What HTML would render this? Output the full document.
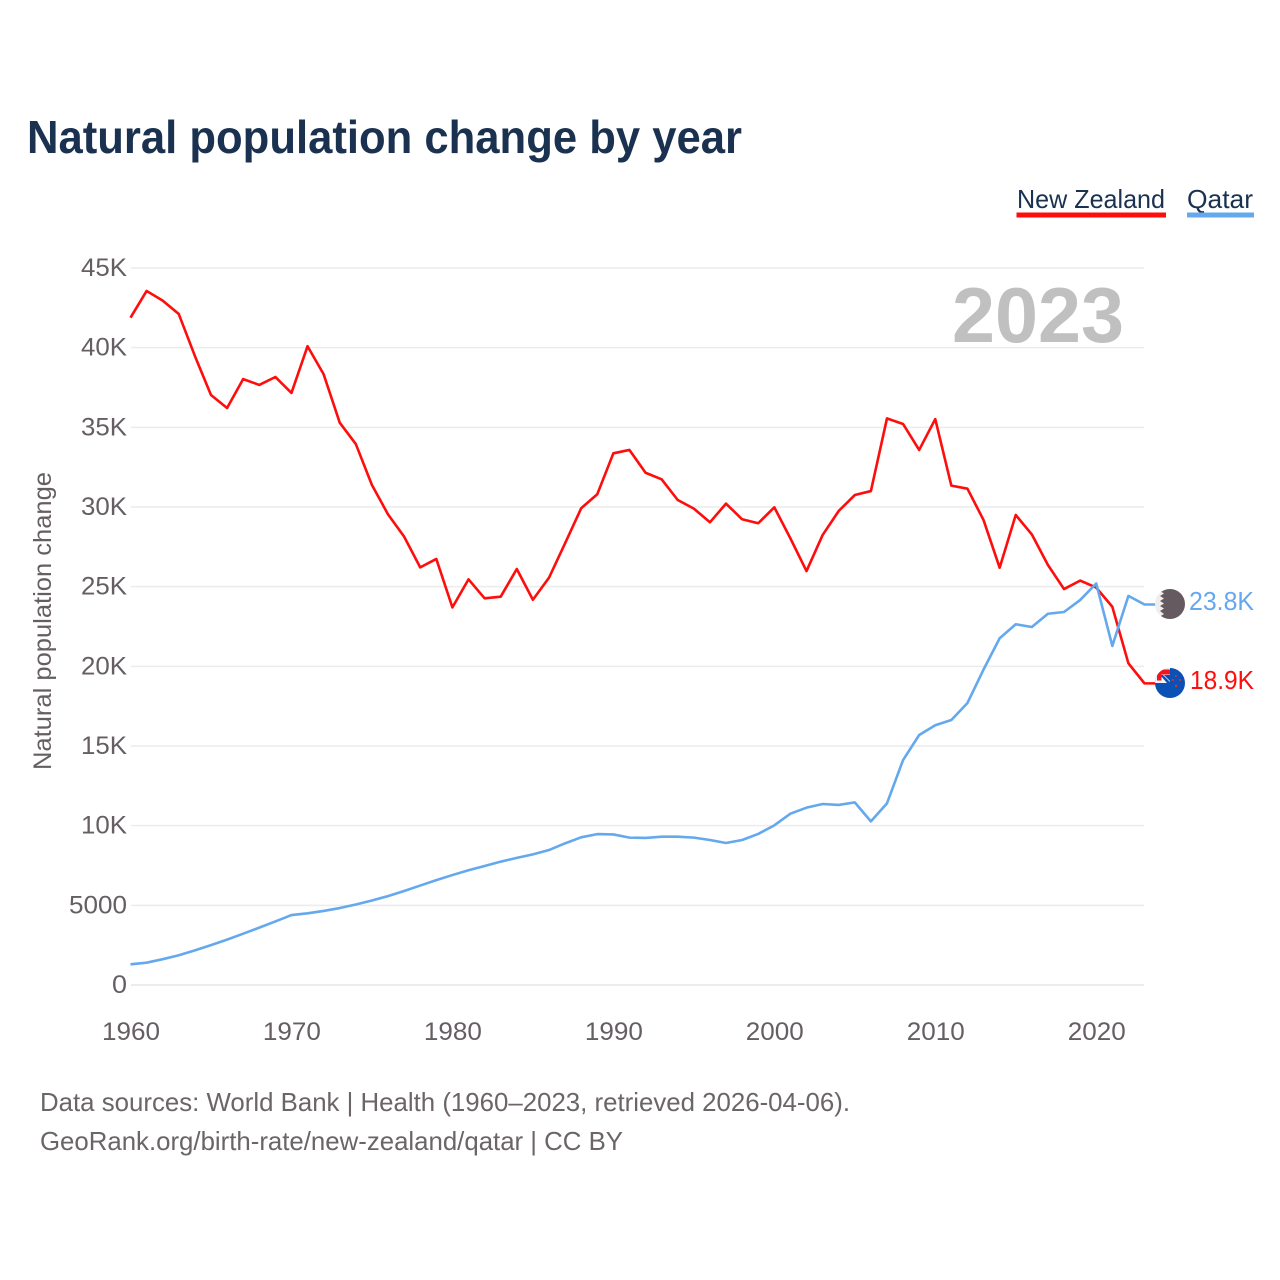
<!DOCTYPE html>
<html lang="en">
<head>
<meta charset="utf-8">
<title>Natural population change by year</title>
<style>
html,body{margin:0;padding:0;background:#fff;width:1280px;height:1280px;overflow:hidden}
svg{display:block}
text{font-family:"Liberation Sans",sans-serif}
</style>
</head>
<body>
<svg id="chart" xmlns="http://www.w3.org/2000/svg" width="1280" height="1280" viewBox="0 0 1280 1280">
  <rect width="1280" height="1280" fill="#fff"/>
  <text x="27" y="153" font-size="46" font-weight="bold" fill="#1a3150" textLength="715" lengthAdjust="spacingAndGlyphs">Natural population change by year</text>
  <g>
    <text x="1017" y="208" font-size="26" fill="#1a3150" textLength="148" lengthAdjust="spacingAndGlyphs">New Zealand</text>
    <rect x="1016.500" y="212.500" width="149.500" height="5" fill="#ff0d0d"/>
  </g>
  <g>
    <text x="1187" y="208" font-size="26" fill="#1a3150" textLength="66" lengthAdjust="spacingAndGlyphs">Qatar</text>
    <rect x="1187" y="212.500" width="67" height="5" fill="#64a8ee"/>
  </g>
  <g id="grid"></g>
  <g id="yticks"></g>
  <g id="xticks"></g>
  <text transform="translate(51,621) rotate(-90)" text-anchor="middle" font-size="25" fill="#655e63" textLength="298" lengthAdjust="spacingAndGlyphs">Natural population change</text>
  <text x="952" y="342" font-size="78" font-weight="bold" fill="#c0c0c0" textLength="172" lengthAdjust="spacingAndGlyphs">2023</text>
  <g id="series"></g>
  <defs>
    <clipPath id="clip-qa"><circle cx="1170" cy="604" r="15"/></clipPath>
    <clipPath id="clip-nz"><circle cx="1170" cy="683" r="15"/></clipPath>
  </defs>
  <g clip-path="url(#clip-qa)">
    <rect x="1155" y="589" width="30" height="30" fill="#efeded"/>
    <polygon points="1163,589 1185,589 1185,619 1163,619 1160,616.500 1164,614 1160,611 1164,608.500 1160,606 1164,603.500 1160,601 1164,598.500 1160,596 1164,593.500 1160,591" fill="#655a60"/>
  </g>
  <g clip-path="url(#clip-nz)">
    <rect x="1155" y="668" width="30" height="30" fill="#0b50b4"/>
    <rect x="1155" y="668" width="15" height="15" fill="#f4f4fa"/>
    <polygon points="1160,675 1163,675 1170,682 1170,683 1167,683" fill="#0b50b4"/>
    <polygon points="1164,675 1170,675 1170,681" fill="#0b50b4"/>
    <rect x="1157" y="669.500" width="13" height="5" fill="#f5141e"/>
    <rect x="1157" y="669.500" width="4.500" height="11" fill="#f5141e"/>
    <circle cx="1176" cy="676" r="1" fill="#e23030"/>
    <circle cx="1173" cy="680" r="1" fill="#e23030"/>
    <circle cx="1180" cy="680" r="1" fill="#e23030"/>
    <circle cx="1176" cy="686" r="1.200" fill="#e23030"/>
  </g>
  <text x="1189" y="610" font-size="26" fill="#64a8ee" textLength="65" lengthAdjust="spacingAndGlyphs">23.8K</text>
  <text x="1190" y="689" font-size="26" fill="#ff0d0d" textLength="64" lengthAdjust="spacingAndGlyphs">18.9K</text>
  <text x="40" y="1111" font-size="26" fill="#6b6568" textLength="810" lengthAdjust="spacingAndGlyphs">Data sources: World Bank | Health (1960–2023, retrieved 2026-04-06).</text>
  <a><text x="40" y="1150" font-size="26" fill="#6b6568" textLength="583" lengthAdjust="spacingAndGlyphs">GeoRank.org/birth-rate/new-zealand/qatar | CC BY</text></a>
</svg>
<script>
const startYear = 1960;
const newZealand = [41.88,43.56,42.95,42.11,39.48,37.03,36.21,38.03,37.66,38.16,37.16,40.09,38.33,35.29,33.95,31.38,29.54,28.14,26.21,26.74,23.70,25.46,24.27,24.37,26.11,24.18,25.56,27.72,29.92,30.80,33.37,33.58,32.15,31.74,30.44,29.90,29.04,30.21,29.23,28.98,29.98,28.03,25.98,28.24,29.75,30.75,31.00,35.56,35.21,33.58,35.52,31.34,31.15,29.18,26.19,29.50,28.28,26.36,24.85,25.38,24.94,23.74,20.19,18.93];
const qatar = [1.30,1.40,1.62,1.87,2.17,2.50,2.85,3.22,3.60,3.99,4.39,4.50,4.65,4.83,5.05,5.30,5.58,5.90,6.24,6.58,6.90,7.20,7.47,7.74,7.98,8.20,8.47,8.89,9.27,9.47,9.45,9.25,9.23,9.31,9.31,9.25,9.10,8.91,9.10,9.48,10.02,10.75,11.13,11.36,11.30,11.46,10.27,11.40,14.12,15.69,16.30,16.63,17.70,19.80,21.76,22.64,22.47,23.30,23.41,24.16,25.20,21.28,24.42,23.88];
const yTickValues = [0,5,10,15,20,25,30,35,40,45];
const yTickLabels = ["0","5000","10K","15K","20K","25K","30K","35K","40K","45K"];
const xTickYears = [1960,1970,1980,1990,2000,2010,2020];

const NS = "http://www.w3.org/2000/svg";
function xScale(year){ return 130.5 + (year - 1960) * (1144.5 - 130.5) / 63; }
function yScale(v){ return 985 - v * (985 - 268) / 45; }

const grid = document.getElementById("grid");
const yticks = document.getElementById("yticks");
const xticks = document.getElementById("xticks");
const series = document.getElementById("series");

yTickValues.forEach(function(v, i){
  const line = document.createElementNS(NS, "line");
  line.setAttribute("x1", 131);
  line.setAttribute("x2", 1144);
  line.setAttribute("y1", yScale(v));
  line.setAttribute("y2", yScale(v));
  line.setAttribute("stroke", "#ececec");
  line.setAttribute("stroke-width", v === 0 ? 2 : 1.5);
  
  
  grid.appendChild(line);

  const t = document.createElementNS(NS, "text");
  t.setAttribute("x", 127);
  t.setAttribute("y", yScale(v) + 8);
  t.setAttribute("text-anchor", "end");
  t.setAttribute("font-size", "25");
  t.setAttribute("fill", "#655e63");
  const w = yTickLabels[i].length === 4 ? 58 : (yTickLabels[i].length === 1 ? 15 : 46);
  t.setAttribute("textLength", w);
  t.setAttribute("lengthAdjust", "spacingAndGlyphs");
  
  
  t.textContent = yTickLabels[i];
  yticks.appendChild(t);
});

xTickYears.forEach(function(year){
  const t = document.createElementNS(NS, "text");
  t.setAttribute("x", xScale(year) + 0.5);
  t.setAttribute("y", 1040);
  t.setAttribute("text-anchor", "middle");
  t.setAttribute("font-size", "25");
  t.setAttribute("fill", "#655e63");
  t.setAttribute("textLength", 58);
  t.setAttribute("lengthAdjust", "spacingAndGlyphs");
  
  
  t.textContent = year;
  xticks.appendChild(t);
});

function linePoints(values){
  return values.map(function(v, i){
    return xScale(startYear + i).toFixed(2) + "," + yScale(v).toFixed(2);
  }).join(" ");
}
function endStub(values){
  return yScale(values[values.length - 1]).toFixed(2);
}

const nzLine = document.createElementNS(NS, "polyline");
nzLine.setAttribute("points", linePoints(newZealand) + " 1156," + endStub(newZealand));
nzLine.setAttribute("fill", "none");
nzLine.setAttribute("stroke", "#ff0d0d");
nzLine.setAttribute("stroke-width", "2.6");
nzLine.setAttribute("stroke-linejoin", "round");


series.appendChild(nzLine);

const qaLine = document.createElementNS(NS, "polyline");
qaLine.setAttribute("points", linePoints(qatar) + " 1156," + endStub(qatar));
qaLine.setAttribute("fill", "none");
qaLine.setAttribute("stroke", "#64a8ee");
qaLine.setAttribute("stroke-width", "2.6");
qaLine.setAttribute("stroke-linejoin", "round");


series.appendChild(qaLine);
</script>
</body>
</html>
